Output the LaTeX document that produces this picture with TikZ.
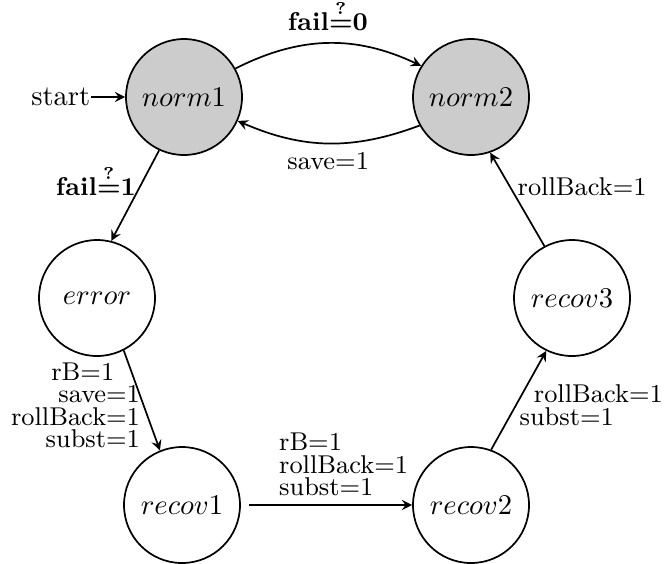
\documentclass[tikz,border=0pt]{standalone}
\usetikzlibrary{positioning}
\tikzset{
  loc/.style={circle, draw, semithick, minimum size=40.6pt, inner sep=0pt},
  init/.style={loc, fill=black!20},
  lbl/.style={font=\fontsize{9}{7.8}\selectfont, inner sep=1pt},
  tr/.style={->, semithick}
}
\begin{document}
\begin{tikzpicture}[x=0.35pt, y=-0.35pt, >=stealth]
  \useasboundingbox (0,0) rectangle (665,563);
  % states
  \node[init] (norm1) at (184,97) {$norm1$};
  \node[init] (norm2) at (471,97) {$norm2$};
  \node[loc] (error) at (97,298) {$error$};
  \node[loc] (recov3) at (572,298) {$recov3$};
  \node[loc] (recov1) at (182,505) {$recov1$};
  \node[loc] (recov2) at (471,505) {$recov2$};
  \node[left=12pt of norm1, inner sep=0pt] (start) {start};
  % transitions
  \draw[tr] (start) -- (norm1);
  \draw[tr] (norm1.29) to[bend left=26] node[lbl, above=3pt, font=\small\bfseries\boldmath] {fail$\stackrel{?}{=}$0} (norm2.148);
  \draw[tr] (norm2.209) to[bend left=22] node[lbl, below=2pt] {save=1} (norm1.336);
  \draw[tr] (norm1.245) -- node[lbl, left=1.3pt, pos=0.33, font=\small\bfseries\boldmath] {fail$\stackrel{?}{=}$1} (error.76);
  \draw[tr] (error.297) -- node[lbl, left=0pt, align=right, pos=0.55] {rB=1\hspace*{9pt}\\save=1\hspace*{3pt}\\rollBack=1\\subst=1} (recov1.112);
  \draw[tr, shorten <=3pt] (recov1) -- node[lbl, above=2pt, align=left, pos=0.6] {rB=1\\rollBack=1\\subst=1} (recov2);
  \draw[tr] (recov2.70) -- node[lbl, right=0pt, align=left, pos=0.45] {\noindent\hspace*{5pt}rollBack=1\\subst=1} (recov3.244);
  \draw[tr] (recov3.118) -- node[lbl, right=1.5pt, pos=0.64] {rollBack=1} (norm2.289);
\end{tikzpicture}
\end{document}
